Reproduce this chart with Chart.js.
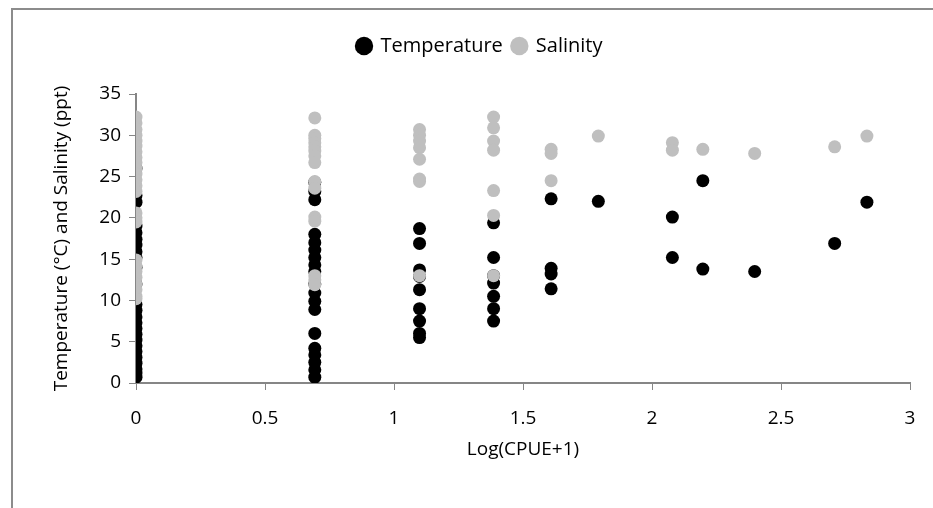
<!DOCTYPE html>
<html>
<head>
<meta charset="utf-8">
<script src="https://cdn.jsdelivr.net/npm/chart.js@4"></script>
<style>
  html, body { margin: 0; padding: 0; background: #fff; overflow: hidden; }
  #frame { position: absolute; left: 11px; top: 8px; width: 1000px; height: 600px; border-left: 2px solid #8c8c8c; border-top: 2px solid #8c8c8c; }
  #wrap { position: absolute; left: 0; top: 0; width: 933px; height: 508px; }
</style>
</head>
<body>
<div id="frame"></div>
<div id="wrap"><canvas id="chart"></canvas></div>
<script>
// x = Log(CPUE+1), one column per catch level
const tempX = [
  0,0,0,0,0,0,0,0,0,0,0,0,0,0,0,0,0,0,0,0,0,0,0,0,0,
  0.693,0.693,0.693,0.693,0.693,0.693,0.693,0.693,0.693,0.693,0.693,0.693,0.693,0.693,0.693,0.693,0.693,0.693,0.693,
  1.099,1.099,1.099,1.099,1.099,1.099,1.099,1.099,1.099,
  1.386,1.386,1.386,1.386,1.386,1.386,1.386,
  1.609,1.609,1.609,1.609,
  1.792,
  2.079,2.079,
  2.197,2.197,
  2.398,
  2.708,
  2.833
];
const tempY = [
  22.7,21.9,19.0,18.2,17.4,16.7,15.9,15.2,14.0,12.0,9.5,8.8,8.0,7.3,6.6,5.9,5.2,4.5,3.8,3.1,2.4,1.7,1.2,0.7,26.0,
  24.3,23.2,22.2,18.0,17.0,16.1,15.2,14.3,13.5,12.0,10.9,9.9,8.9,6.0,4.2,3.4,2.5,1.6,0.7,
  18.7,16.9,13.7,12.9,11.3,9.0,7.5,6.0,5.5,
  19.4,15.2,13.0,12.1,10.5,9.0,7.5,
  22.3,13.9,13.2,11.4,
  22.0,
  20.1,15.2,
  24.5,13.8,
  13.5,
  16.9,
  21.9
];
const salX = [
  0,0,0,0,0,0,0,0,0,0,0,0,0,0,0,0,0,0,0,0,0,0,0,0,0,
  0.693,0.693,0.693,0.693,0.693,0.693,0.693,0.693,0.693,0.693,0.693,0.693,0.693,0.693,0.693,
  1.099,1.099,1.099,1.099,1.099,1.099,1.099,1.099,
  1.386,1.386,1.386,1.386,1.386,1.386,1.386,
  1.609,1.609,1.609,
  1.792,
  2.079,2.079,
  2.197,
  2.398,
  2.708,
  2.833
];
const salY = [
  32.2,31.5,30.7,30.0,29.3,28.7,28.0,27.3,26.7,26.0,25.3,24.6,23.9,23.2,20.6,20.0,19.5,14.9,14.2,13.5,12.8,12.0,11.3,10.5,10.2,
  32.1,30.0,29.6,29.1,28.6,28.1,27.5,26.7,24.4,23.6,20.1,19.6,13.0,12.5,11.9,
  30.7,30.0,29.3,28.5,27.1,24.7,24.4,13.0,
  32.2,30.9,29.3,28.2,23.3,20.3,13.0,
  28.3,27.8,24.5,
  29.9,
  29.1,28.2,
  28.3,
  27.8,
  28.6,
  29.9
];
const xTicks = [0, 0.5, 1, 1.5, 2, 2.5, 3];
const yTicks = [0, 5, 10, 15, 20, 25, 30, 35];

const toPoints = (xs, ys) => xs.map((x, i) => ({x: x, y: ys[i]}));
const axisColor = '#868686';
const family = "'Open Sans', 'Liberation Sans', sans-serif";
const font = {family: family, size: 19};

// give the legend a fixed height so the plot starts where it should
const legendSpace = {
  id: 'legendSpace',
  beforeLayout(chart) {
    const lg = chart.legend;
    if (lg && !lg._patched) {
      const fit = lg.fit;
      lg.fit = function () { fit.call(this); this.height = 68; };
      lg._patched = true;
    }
  }
};

new Chart(document.getElementById('chart'), {
  type: 'scatter',
  data: {
    datasets: [
      {label: 'Temperature', data: toPoints(tempX, tempY), backgroundColor: '#000000', borderWidth: 0, pointRadius: 6.5, order: 1},
      {label: 'Salinity', data: toPoints(salX, salY), backgroundColor: '#bfbfbf', borderWidth: 0, pointRadius: 6.5, order: 0}
    ]
  },
  plugins: [legendSpace],
  options: {
    responsive: true,
    maintainAspectRatio: false,
    animation: false,
    layout: {padding: {left: 50, right: 23, top: 26, bottom: 47}},
    plugins: {
      tooltip: {enabled: false},
      legend: {
        position: 'top',
        labels: {
          usePointStyle: true,
          pointStyle: 'circle',
          boxWidth: 13,
          boxHeight: 13,
          padding: 10,
          color: '#000',
          font: {family: family, size: 20},
          sort: (a, b) => a.datasetIndex - b.datasetIndex
        }
      }
    },
    scales: {
      x: {
        type: 'linear',
        min: 0, max: 3,
        afterBuildTicks: s => { s.ticks = xTicks.map(v => ({value: v})); },
        afterFit: s => { s.height = 78; },
        ticks: {color: '#000', font: font, padding: 17, callback: v => String(v)},
        grid: {drawOnChartArea: false, drawTicks: true, tickLength: 7, color: axisColor},
        border: {display: true, color: axisColor, width: 2},
        title: {display: true, text: 'Log(CPUE+1)', color: '#000', font: font, padding: 0}
      },
      y: {
        min: 0, max: 35,
        afterBuildTicks: s => { s.ticks = yTicks.map(v => ({value: v})); },
        afterFit: s => { s.width = 86; },
        ticks: {color: '#000', font: font, padding: 8},
        grid: {drawOnChartArea: false, drawTicks: true, tickLength: 7, color: axisColor},
        border: {display: true, color: axisColor, width: 2},
        title: {display: true, text: 'Temperature (°C) and Salinity (ppt)', color: '#000', font: font, padding: 0}
      }
    }
  }
});
</script>
</body>
</html>
